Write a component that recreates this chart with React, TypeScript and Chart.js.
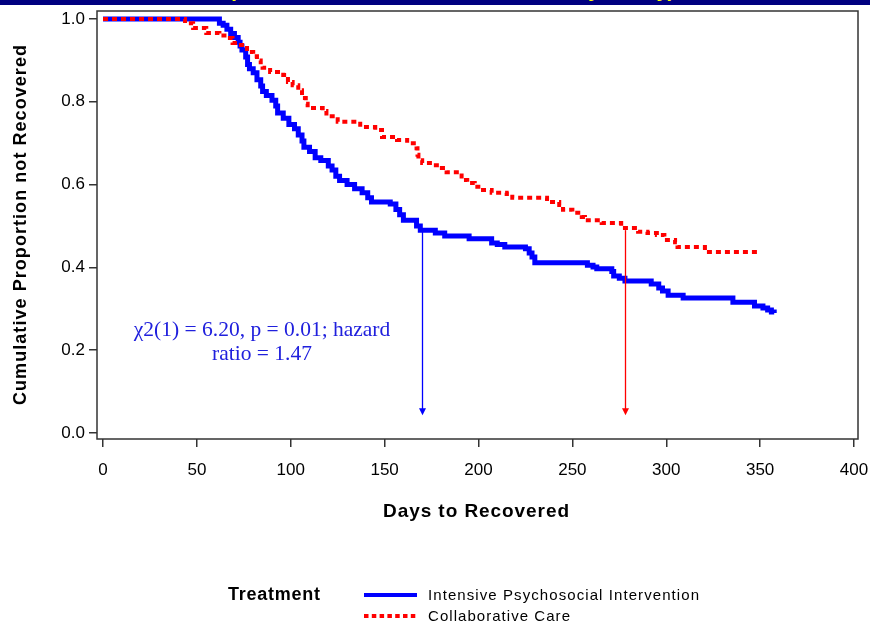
import React, { useEffect, useRef } from 'react';
import { Chart, registerables } from 'chart.js';

Chart.register(...registerables);

// ---- data ----
const xTicks = [0, 50, 100, 150, 200, 250, 300, 350, 400];
const yTicks = [0, 0.2, 0.4, 0.6, 0.8, 1.0];

// Intensive Psychosocial Intervention (drop day, survival after drop)
const ipiDays = [0, 60, 62, 64, 66, 68, 70, 72, 73, 74, 76, 77, 78, 80, 82, 84, 85, 87, 90, 92, 93, 96, 99, 102, 104, 106, 107, 110, 113, 116, 120, 122, 124, 126, 130, 134, 138, 141, 143, 153, 156, 158, 160, 167, 169, 177, 182, 195, 207, 210, 214, 225, 227, 228.5, 230, 258, 261, 263, 271, 272, 275, 278, 292, 296, 298, 301, 309, 335.5, 347, 351.5, 354, 356, 357.5];
const ipiSurv = [1.0, 1.0, 0.99, 0.985, 0.975, 0.965, 0.955, 0.944, 0.935, 0.925, 0.908, 0.89, 0.88, 0.87, 0.853, 0.838, 0.825, 0.815, 0.804, 0.79, 0.773, 0.76, 0.745, 0.735, 0.72, 0.705, 0.69, 0.68, 0.665, 0.658, 0.645, 0.635, 0.62, 0.61, 0.6, 0.59, 0.58, 0.568, 0.558, 0.553, 0.54, 0.527, 0.514, 0.5, 0.49, 0.483, 0.476, 0.469, 0.459, 0.455, 0.449, 0.445, 0.435, 0.425, 0.411, 0.405, 0.401, 0.397, 0.39, 0.379, 0.374, 0.367, 0.36, 0.35, 0.343, 0.333, 0.326, 0.316, 0.307, 0.302, 0.297, 0.292, 0.29];

// Collaborative Care
const ccDays = [0, 41, 43.7, 48, 55, 62, 67.6, 69, 72, 74, 76.7, 80, 82, 84, 85, 89, 96, 98.5, 101, 104, 106, 108, 109, 117, 119, 125, 137, 145, 148.6, 156.6, 162, 167, 167.5, 168, 170, 176, 180.5, 183, 191, 194, 198, 201, 207, 215, 218, 236.5, 243, 245, 250, 255, 256.7, 265.6, 276, 285, 290, 295, 299, 304.7, 306, 320.6, 349];
const ccSurv = [1.0, 1.0, 0.99, 0.978, 0.966, 0.96, 0.954, 0.942, 0.937, 0.93, 0.92, 0.91, 0.9, 0.89, 0.882, 0.872, 0.865, 0.848, 0.84, 0.828, 0.809, 0.795, 0.785, 0.778, 0.765, 0.752, 0.739, 0.732, 0.715, 0.708, 0.7, 0.688, 0.672, 0.659, 0.652, 0.647, 0.64, 0.63, 0.611, 0.604, 0.595, 0.587, 0.58, 0.577, 0.568, 0.558, 0.551, 0.539, 0.532, 0.522, 0.514, 0.507, 0.495, 0.486, 0.483, 0.478, 0.466, 0.461, 0.449, 0.437, 0.437];

const seriesNames = ['Intensive Psychosocial Intervention', 'Collaborative Care'];
const seriesColors = ['#0000ff', '#ff0000'];

// median arrows
const arrowDays = [170, 278.2];
const arrowTops = [0.487, 0.49];
const arrowTip = 0.043;

const statLine1 = 'χ2(1) = 6.20, p = 0.01; hazard';
const statLine2 = 'ratio = 1.47';
const statX = 84.7;
const statY1 = 0.249;
const statY2 = 0.189;

const yTitle = 'Cumulative Proportion not Recovered';
const xTitle = 'Days to Recovered';
const legendTitle = 'Treatment';

const SANS = "'Liberation Sans', Arial, Helvetica, sans-serif";
const SERIF = "'Liberation Serif', 'Times New Roman', serif";

function fitText(ctx: CanvasRenderingContext2D, text: string, x: number, y: number, w: number) {
  (ctx as any).letterSpacing = '0px';
  const m = ctx.measureText(text).width;
  const ls = (w - m) / Math.max(1, text.length - 1);
  (ctx as any).letterSpacing = ls + 'px';
  ctx.textAlign = 'left';
  ctx.fillText(text, x, y);
  (ctx as any).letterSpacing = '0px';
}

const decor = {
  id: 'decor',
  afterDatasetsDraw(chart: any) {
    const { ctx, scales } = chart;
    const x = scales.x, y = scales.y;
    ctx.save();
    // arrows
    arrowDays.forEach((d, i) => {
      const px = Math.round(x.getPixelForValue(d)) + 0.5;
      const top = y.getPixelForValue(arrowTops[i]);
      const tip = y.getPixelForValue(arrowTip);
      ctx.strokeStyle = seriesColors[i];
      ctx.fillStyle = seriesColors[i];
      ctx.lineWidth = 1.3;
      ctx.beginPath();
      ctx.moveTo(px, top);
      ctx.lineTo(px, tip - 5);
      ctx.stroke();
      ctx.beginPath();
      ctx.moveTo(px - 3.5, tip - 7);
      ctx.lineTo(px + 3.5, tip - 7);
      ctx.lineTo(px, tip);
      ctx.closePath();
      ctx.fill();
    });
    // stat text
    ctx.fillStyle = '#2020dd';
    ctx.font = `21.5px ${SERIF}`;
    ctx.textAlign = 'center';
    ctx.textBaseline = 'middle';
    ctx.fillText(statLine1, x.getPixelForValue(statX), y.getPixelForValue(statY1));
    ctx.fillText(statLine2, x.getPixelForValue(statX), y.getPixelForValue(statY2));
    ctx.restore();
  },
  afterDraw(chart: any) {
    const { ctx, chartArea: a } = chart;
    ctx.save();
    // frame
    ctx.strokeStyle = '#333';
    ctx.lineWidth = 1.5;
    ctx.strokeRect(a.left, a.top, a.right - a.left, a.bottom - a.top);

    ctx.fillStyle = '#000';
    ctx.textBaseline = 'middle';
    // y title
    ctx.save();
    ctx.translate(21, 225);
    ctx.rotate(-Math.PI / 2);
    ctx.font = `bold 18px ${SANS}`;
    fitText(ctx, yTitle, -180, 0, 360);
    ctx.restore();
    // x title
    ctx.font = `bold 19px ${SANS}`;
    fitText(ctx, xTitle, 383, 512, 186);

    // legend
    ctx.font = `bold 18px ${SANS}`;
    fitText(ctx, legendTitle, 228, 595, 92);
    ctx.font = `15px ${SANS}`;
    fitText(ctx, seriesNames[0], 428, 596, 271);
    fitText(ctx, seriesNames[1], 428, 617, 142);
    ctx.lineWidth = 4;
    ctx.strokeStyle = seriesColors[0];
    ctx.beginPath();
    ctx.moveTo(364, 595);
    ctx.lineTo(417, 595);
    ctx.stroke();
    ctx.strokeStyle = seriesColors[1];
    ctx.setLineDash([4.5, 3.3]);
    ctx.beginPath();
    ctx.moveTo(364, 616);
    ctx.lineTo(417, 616);
    ctx.stroke();
    ctx.restore();
  },
};

export default function App() {
  const ref = useRef<HTMLCanvasElement>(null);
  useEffect(() => {
    const canvas = ref.current;
    if (!canvas) return;
    const chart = new Chart(canvas, {
      type: 'line',
      data: {
        datasets: [
          {
            label: seriesNames[0],
            data: ipiDays.map((d, i) => ({ x: d, y: ipiSurv[i] })),
            stepped: 'before',
            borderColor: seriesColors[0],
            borderWidth: 5,
            pointRadius: 0,
            fill: false,
            order: 2,
          },
          {
            label: seriesNames[1],
            data: ccDays.map((d, i) => ({ x: d, y: ccSurv[i] })),
            stepped: 'before',
            borderColor: seriesColors[1],
            borderWidth: 4,
            borderDash: [5, 4],
            pointRadius: 0,
            fill: false,
            order: 1,
          },
        ],
      },
      options: {
        animation: false,
        responsive: false,
        devicePixelRatio: 1,
        layout: { padding: { top: 11, right: 12, left: 0, bottom: 0 } },
        plugins: { legend: { display: false }, tooltip: { enabled: false } },
        events: [],
        scales: {
          x: {
            type: 'linear',
            min: -3.2,
            max: 402.13,
            afterBuildTicks: (ax: any) => { ax.ticks = xTicks.map((v) => ({ value: v })); },
            afterFit: (s: any) => { s.height = 184; s.paddingLeft = 0; s.paddingRight = 0; },
            grid: { display: true, drawOnChartArea: false, drawTicks: true, tickLength: 8, color: '#333', lineWidth: 1.5 },
            border: { display: false },
            ticks: {
              autoSkip: false,
              maxRotation: 0,
              padding: 13,
              color: '#000',
              font: { family: SANS, size: 17 },
              callback: (v: any) => String(v),
            },
          },
          y: {
            type: 'linear',
            min: -0.0145,
            max: 1.0193,
            afterBuildTicks: (ax: any) => { ax.ticks = yTicks.map((v) => ({ value: v })); },
            afterFit: (s: any) => { s.width = 97; s.paddingTop = 0; s.paddingBottom = 0; },
            grid: { display: true, drawOnChartArea: false, drawTicks: true, tickLength: 8, color: '#333', lineWidth: 1.5 },
            border: { display: false },
            ticks: {
              autoSkip: false,
              padding: 4,
              color: '#000',
              font: { family: SANS, size: 17 },
              callback: (v: any) => Number(v).toFixed(1),
            },
          },
        },
      },
      plugins: [decor],
    });
    return () => chart.destroy();
  }, []);

  const banner = { position: 'absolute' as const, top: -21, lineHeight: '20px', font: `bold 20px ${SANS}`, color: '#ffff00', whiteSpace: 'pre' as const };
  return (
    <div style={{ position: 'fixed', left: 0, top: 0, width: 870, height: 623, background: '#fff', overflow: 'hidden' }}>
      <canvas ref={ref} width={870} height={623} style={{ display: 'block', position: 'absolute', left: 0, top: 0 }} />
      <div style={{ position: 'absolute', left: 0, top: 0, width: 870, height: 5, background: '#000080', overflow: 'hidden' }}>
        <span style={{ ...banner, left: 229 }}>(Intent to Treat</span>
        <span style={{ ...banner, left: 385 }}>, ITT</span>
        <span style={{ ...banner, left: 444 }}>, All Patients</span>
        <span style={{ ...banner, left: 576 }}>by</span>
        <span style={{ ...banner, left: 612 }}>Study)</span>
      </div>
    </div>
  );
}
